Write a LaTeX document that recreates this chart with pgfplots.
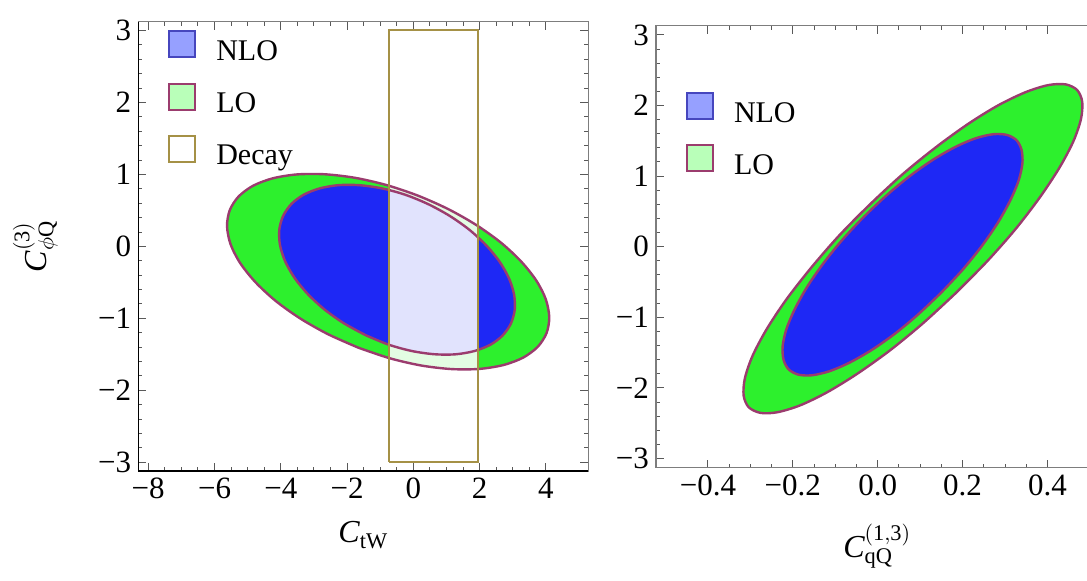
\documentclass[border=0pt]{standalone}
\usepackage{pgfplots}
\pgfplotsset{compat=1.18}
\usepackage{fontspec}
\setmainfont{Liberation Serif}

\definecolor{nlofill}{RGB}{30,40,245}
\definecolor{lofill}{RGB}{45,240,45}
\definecolor{edge}{RGB}{155,60,110}
\definecolor{decay}{RGB}{165,145,70}
\definecolor{nlolight}{RGB}{150,160,255}
\definecolor{nloedge}{RGB}{70,70,190}
\definecolor{lolight}{RGB}{185,255,185}
\definecolor{frame}{RGB}{125,125,125}

\pgfplotsset{
  panel/.style={
    scale only axis,
    axis line style={frame, line width=0.6pt},
    tick style={black!65, line width=0.5pt},
    major tick length=4pt, minor tick length=2pt,
    tick label style={font=\fontsize{15.5}{15.5}\selectfont},
    label style={font=\fontsize{16}{19}\selectfont},
    ytick={-3,...,3},
    yticklabels={−3,−2,−1,0,1,2,3},
    minor y tick num=4,
    minor x tick num=3,
    legend image code/.code={\draw[line width=1pt,##1] (0pt,-1.5pt) rectangle (13pt,11.5pt);},
    legend style={draw=none, fill=none, inner sep=0pt, outer sep=0pt,
      row sep=7.6pt, column sep=10pt, font=\fontsize{15}{18}\selectfont,
      nodes={inner sep=0pt, text height=9.5pt, text depth=3.5pt}},
    legend cell align=left,
  },
}

% contour points
\pgfplotstableread{
x y
-1.653 -1.408
-2.569 -1.221
-3.414 -1.001
-4.159 -0.756
-4.771 -0.494
-5.231 -0.228
-5.518 0.033
-5.622 0.281
-5.540 0.503
-5.274 0.693
-4.834 0.843
-4.239 0.946
-3.509 1.000
-2.673 1.002
-1.764 0.953
-0.817 0.853
0.133 0.706
1.049 0.519
1.894 0.299
2.639 0.054
3.251 -0.208
3.711 -0.474
3.998 -0.735
4.102 -0.983
4.020 -1.205
3.754 -1.395
3.314 -1.545
2.719 -1.648
1.989 -1.702
1.153 -1.704
0.244 -1.655
-0.703 -1.555
-1.653 -1.408
}\leftLO
\pgfplotstableread{
x y
-1.433 -1.235
-2.085 -1.071
-2.675 -0.879
-3.182 -0.664
-3.585 -0.437
-3.870 -0.206
-4.025 0.021
-4.044 0.235
-3.926 0.427
-3.676 0.591
-3.305 0.719
-2.824 0.806
-2.255 0.851
-1.618 0.850
-0.937 0.805
-0.239 0.717
0.449 0.587
1.101 0.423
1.691 0.231
2.198 0.016
2.601 -0.211
2.886 -0.442
3.041 -0.669
3.060 -0.883
2.942 -1.075
2.692 -1.239
2.321 -1.367
1.840 -1.454
1.271 -1.499
0.634 -1.498
-0.047 -1.453
-0.745 -1.365
-1.433 -1.235
}\leftNLO
\pgfplotstableread{
x y
0.184 -0.657
0.107 -1.083
0.029 -1.468
-0.048 -1.799
-0.119 -2.061
-0.182 -2.245
-0.236 -2.344
-0.276 -2.354
-0.304 -2.274
-0.316 -2.108
-0.313 -1.862
-0.295 -1.546
-0.262 -1.171
-0.216 -0.753
-0.158 -0.306
-0.092 0.151
-0.018 0.601
0.059 1.028
0.138 1.413
0.214 1.743
0.285 2.006
0.349 2.190
0.402 2.289
0.443 2.299
0.470 2.219
0.482 2.053
0.479 1.807
0.461 1.491
0.428 1.116
0.382 0.698
0.325 0.251
0.258 -0.206
0.184 -0.657
}\rightLO
\pgfplotstableread{
x y
0.149 -0.655
0.095 -0.961
0.040 -1.235
-0.015 -1.466
-0.067 -1.644
-0.114 -1.764
-0.155 -1.821
-0.187 -1.812
-0.210 -1.737
-0.222 -1.600
-0.224 -1.407
-0.215 -1.163
-0.195 -0.879
-0.166 -0.566
-0.128 -0.235
-0.083 0.100
-0.032 0.427
0.022 0.733
0.077 1.007
0.132 1.238
0.184 1.416
0.231 1.536
0.272 1.593
0.304 1.584
0.327 1.509
0.339 1.372
0.341 1.179
0.332 0.935
0.312 0.651
0.283 0.338
0.245 0.007
0.200 -0.328
0.149 -0.655
}\rightNLO

\begin{document}
\begin{tikzpicture}
% left panel: C_tW vs C_phiQ^(3)
\begin{axis}[panel, at={(69.15pt,54.5pt)}, anchor=south west,
  width=225pt, height=224.6pt,
  xmin=-8.3, xmax=5.28, ymin=-3.12, ymax=3.12,
  xtick={-8,-6,-4,-2,0,2,4}, xticklabels={−8,−6,−4,−2,0,2,4},
  xlabel={$\mathit{C}_{\mathrm{tW}}$},
  ylabel={$\mathit{C}^{\mathrm{(3)}}_{\phi\mathrm{Q}}$},
  xlabel style={at={(axis description cs:0.5,-0.1602)}, anchor=base},
  ylabel style={at={(axis description cs:-0.229,0.5)}, anchor=center},
  legend style={at={(axis description cs:0,1)}, anchor=north west, xshift=15pt, yshift=-4.35pt},
  after end axis/.code={\draw[black, line width=0.6pt] (rel axis cs:0,1) -- (rel axis cs:0,0) -- (rel axis cs:1,0);},
]
\addlegendimage{fill=nlolight, draw=nloedge}
\addlegendentry{NLO}
\addlegendimage{fill=lolight, draw=edge}
\addlegendentry{LO}
\addlegendimage{fill=white, draw=decay}
\addlegendentry{Decay}

\addplot[forget plot, fill=lofill, draw=none, smooth] table {\leftLO};
\addplot[forget plot, fill=nlofill, draw=none, smooth] table {\leftNLO};
% decay band washes out what lies under it
\addplot[forget plot, fill=white, fill opacity=0.87, draw=none] coordinates {
(-0.74,-3) (1.95,-3) (1.95,3) (-0.74,3)} -- cycle;
\addplot[forget plot, draw=edge, line width=1.2pt, smooth] table {\leftLO};
\addplot[forget plot, draw=edge, line width=1.2pt, smooth] table {\leftNLO};
\addplot[forget plot, draw=decay, line width=1pt] coordinates {
(-0.74,-3) (1.95,-3) (1.95,3) (-0.74,3) (-0.74,-3)};
\end{axis}

% right panel: C_qQ^(1,3) vs C_phiQ^(3)
\begin{axis}[panel, at={(328pt,56.15pt)}, anchor=south west,
  width=221.17pt, height=221pt,
  xmin=-0.5225, xmax=0.52, ymin=-3.13, ymax=3.13,
  xtick={-0.4,-0.2,0,0.2,0.4}, xticklabels={−0.4,−0.2,0.0,0.2,0.4},
  xlabel={$\mathit{C}^{\mathrm{(1,3)}}_{\mathrm{qQ}}$},
  xlabel style={at={(axis description cs:0.5,-0.2036)}, anchor=base},
  legend style={at={(axis description cs:0,1)}, anchor=north west, xshift=15pt, yshift=-33.2pt},
]
\addlegendimage{fill=nlolight, draw=nloedge}
\addlegendentry{NLO}
\addlegendimage{fill=lolight, draw=edge}
\addlegendentry{LO}

\addplot[forget plot, fill=lofill, draw=edge, line width=1.2pt, smooth] table {\rightLO};
\addplot[forget plot, fill=nlofill, draw=edge, line width=1.2pt, smooth] table {\rightNLO};
\end{axis}
\pgfresetboundingbox
\path[use as bounding box] (0,0) rectangle (543.5pt,290pt);
\end{tikzpicture}
\end{document}
